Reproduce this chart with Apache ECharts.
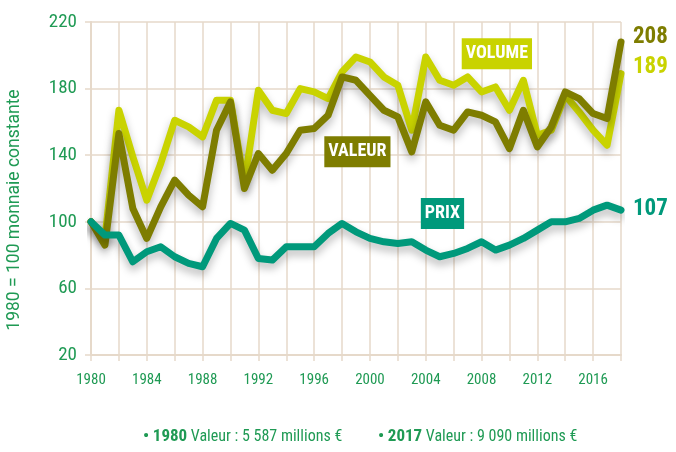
<!DOCTYPE html>
<html>
<head>
<meta charset="utf-8">
<script src="https://cdn.jsdelivr.net/npm/echarts@6/dist/echarts.min.js"></script>
<style>
	html, body { margin: 0; padding: 0; background: #fff; }
	#chart { width: 676px; height: 452px; }
</style>
</head>
<body>
<div id="chart"></div>
<script>
	// annees 1980 -> 2018
	var years = [1980, 1981, 1982, 1983, 1984, 1985, 1986, 1987, 1988, 1989,
		1990, 1991, 1992, 1993, 1994, 1995, 1996, 1997, 1998, 1999,
		2000, 2001, 2002, 2003, 2004, 2005, 2006, 2007, 2008, 2009,
		2010, 2011, 2012, 2013, 2014, 2015, 2016, 2017, 2018];
	var volume = [100, 90, 167, 139, 113, 135, 161, 157, 151, 173,
		173, 123, 179, 167, 165, 180, 178, 174, 190, 199,
		196, 187, 182, 155, 199, 185, 182, 187, 178, 181,
		167, 185, 152, 155, 176, 166, 155, 146, 189];
	var valeur = [100, 86, 153, 108, 90, 109, 125, 116, 109, 155,
		172, 120, 141, 131, 141, 155, 156, 164, 187, 185,
		176, 167, 163, 142, 172, 158, 155, 166, 164, 160,
		144, 167, 145, 157, 178, 174, 165, 162, 208];
	var prix = [100, 92, 92, 76, 82, 85, 79, 75, 73, 90,
		99, 95, 78, 77, 85, 85, 85, 93, 99, 94,
		90, 88, 87, 88, 83, 79, 81, 84, 88, 83,
		86, 90, 95, 100, 100, 102, 107, 110, 107];
	var yTicks = [20, 60, 100, 140, 180, 220];

	var green = '#1f9a54';
	var grille = '#e6d9ca';
	var font = '"Roboto Condensed", Roboto, sans-serif';

	function pairs(vals) {
		var out = [];
		years.forEach(function (y, i) { out.push([y, vals[i]]); });
		return out;
	}

	function serie(name, vals, color, tagAt, endOffset) {
		return {
			name: name,
			type: 'line',
			data: pairs(vals),
			symbol: 'none',
			lineStyle: {
				color: color, width: 7, join: 'round', cap: 'round',
				shadowBlur: 8, shadowColor: 'rgba(0,0,0,0.28)', shadowOffsetY: 5
			},
			endLabel: {
				show: true,
				formatter: function (p) { return p.value[1]; },
				color: color, fontFamily: font, fontWeight: 'bold', fontSize: 23,
				distance: 10, offset: endOffset
			},
			markPoint: {
				symbol: 'rect', symbolSize: 1,
				itemStyle: { color: 'rgba(0,0,0,0)' },
				data: [{ coord: tagAt }],
				label: {
					show: true, position: 'inside',
					formatter: name,
					color: '#fff', fontFamily: font, fontWeight: 'bold', fontSize: 18,
					backgroundColor: color, padding: [7, 4, 6, 4]
				}
			}
		};
	}

	var chart = echarts.init(document.getElementById('chart'));
	chart.setOption({
		animation: false,
		grid: { left: 91, right: 55, top: 22, bottom: 97 },
		xAxis: {
			type: 'value', min: 1980, max: 2018, interval: 2,
			axisLine: { lineStyle: { color: grille, width: 2 } },
			axisTick: { show: true, length: 6, lineStyle: { color: grille, width: 1.5 } },
			splitLine: { show: true, lineStyle: { color: grille, width: 1.5 } },
			axisLabel: {
				color: green, fontFamily: font, fontSize: 15, margin: 18,
				formatter: function (v) { return (v % 4 === 0 && v < 2018) ? String(v) : ''; }
			}
		},
		yAxis: {
			type: 'value', min: yTicks[0], max: yTicks[yTicks.length - 1], interval: 40,
			axisLine: { show: true, lineStyle: { color: grille, width: 2 } },
			axisTick: { show: true, length: 6, lineStyle: { color: grille, width: 1.5 } },
			splitLine: { show: true, lineStyle: { color: grille, width: 1.5 } },
			axisLabel: { color: green, fontFamily: font, fontSize: 19, margin: 14 }
		},
		series: [
			serie('VOLUME', volume, '#c9d300', [2009.1, 201], [2, -6]),
			serie('VALEUR', valeur, '#7e7d00', [1999.1, 142], [2, -5]),
			serie('PRIX', prix, '#00997b', [2005.2, 105], [2, -1])
		],
		graphic: [
			{
				type: 'text', x: 15, y: 210, rotation: Math.PI / 2,
				style: {
					text: '1980 = 100 monnaie constante',
					fill: green, font: '17.5px Roboto, sans-serif',
					align: 'center', verticalAlign: 'middle'
				}
			},
			{
				type: 'text', left: 143, top: 428,
				style: {
					text: '{b|•} {b|1980} Valeur : 5 587 millions €',
					fill: green, font: '16px ' + font,
					rich: { b: { fill: green, fontWeight: 'bold', fontSize: 17, fontFamily: font } }
				}
			},
			{
				type: 'text', left: 378, top: 428,
				style: {
					text: '{b|•} {b|2017} Valeur : 9 090 millions €',
					fill: green, font: '16px ' + font,
					rich: { b: { fill: green, fontWeight: 'bold', fontSize: 17, fontFamily: font } }
				}
			}
		]
	});
</script>
</body>
</html>
